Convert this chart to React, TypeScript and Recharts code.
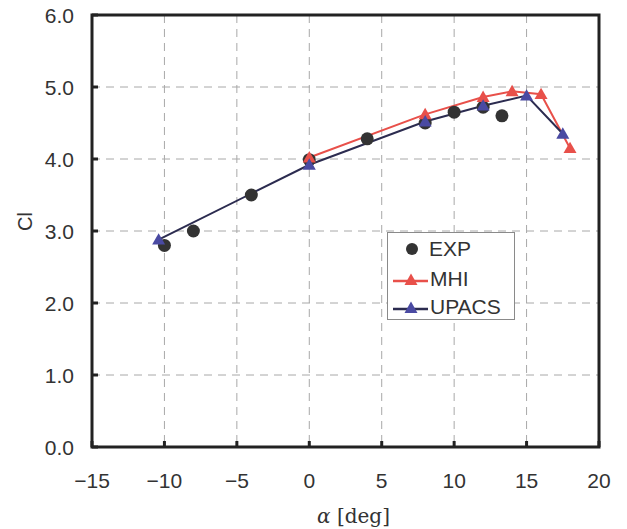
import React from 'react';
import {
  ComposedChart,
  Line,
  Scatter,
  XAxis,
  YAxis,
  CartesianGrid,
  ReferenceArea,
} from 'recharts';

// lift coefficient vs angle of attack
const expAlpha = [-10, -8, -4, 0, 4, 8, 10, 12, 13.3];
const expCl = [2.8, 3.0, 3.5, 3.99, 4.28, 4.5, 4.65, 4.72, 4.6];
const mhiAlpha = [0, 8, 12, 14, 16, 18];
const mhiCl = [4.02, 4.62, 4.86, 4.94, 4.9, 4.15];
const upacsAlpha = [-10.4, 0, 8, 12, 15, 17.5];
const upacsCl = [2.88, 3.92, 4.52, 4.74, 4.88, 4.35];

const xTicks = [-15, -10, -5, 0, 5, 10, 15, 20];
const yTicks = [0, 1, 2, 3, 4, 5, 6];

const toRows = (xs: number[], ys: number[]) => xs.map((a, i) => ({ a, cl: ys[i] }));
const expData = toRows(expAlpha, expCl);
const mhiData = toRows(mhiAlpha, mhiCl);
const upacsData = toRows(upacsAlpha, upacsCl);

const RED = '#e8504a';
const NAVY_LINE = '#2c2c50';
const NAVY_FILL = '#4a4aa2';
const FONT = '"Liberation Sans", Arial, sans-serif';

const tri = (cx: number, cy: number, s: number) =>
  `M${cx},${cy - s} L${cx + s},${cy + s * 0.75} L${cx - s},${cy + s * 0.75} Z`;

const makeTriangle = (fill: string) => (props: any) => {
  const { cx, cy, index } = props;
  if (cx == null || cy == null) return <g key={index} />;
  return <path key={index} d={tri(cx, cy, 6.5)} fill={fill} stroke="none" />;
};

const YTick = (props: any) => {
  const { x, y, payload } = props;
  return (
    <g>
      <text x={x} y={y} dy={7.5} textAnchor="end" fontSize={21} fill="#333" fontFamily={FONT}>
        {payload.value.toFixed(1)}
      </text>
      <line x1={x + 18} x2={x + 24} y1={y} y2={y} stroke="#222" strokeWidth={3} />
    </g>
  );
};

const XTick = (props: any) => {
  const { x, y, payload } = props;
  const label = String(payload.value).replace('-', '\u2212');
  return (
    <g>
      <text x={x} y={y} dy={18.5} textAnchor="middle" fontSize={21} fill="#333" fontFamily={FONT}>
        {label}
      </text>
      <line x1={x} x2={x} y1={y - 22} y2={y - 28} stroke="#222" strokeWidth={3} />
    </g>
  );
};

const XLabel = (props: any) => {
  const { viewBox } = props;
  if (!viewBox) return null;
  const cx = viewBox.x + viewBox.width / 2 + 8;
  const by = viewBox.y + viewBox.height + 36;
  return (
    <text x={cx} y={by} textAnchor="middle" fontSize={20} fill="#333" fontFamily='"DejaVu Serif", serif'>
      <tspan fontStyle="italic">{'\u03b1'}</tspan>
      <tspan>{' [deg]'}</tspan>
    </text>
  );
};

const LegendBox = () => (
  <div
    style={{
      position: 'absolute',
      left: 387,
      top: 232,
      width: 126,
      height: 86,
      border: '1px solid #8a8a8a',
      background: '#fff',
      fontFamily: FONT,
      fontSize: 21,
      color: '#333',
    }}
  >
    <div style={{ position: 'absolute', left: 4, top: 4, display: 'flex', alignItems: 'center', height: 24 }}>
      <svg width={34} height={20}>
        <circle cx={20} cy={10} r={6} fill="#333" />
      </svg>
      <span style={{ marginLeft: 3 }}>EXP</span>
    </div>
    <div style={{ position: 'absolute', left: 4, top: 34, display: 'flex', alignItems: 'center', height: 24 }}>
      <svg width={36} height={20}>
        <line x1={1} x2={36} y1={12} y2={12} stroke={RED} strokeWidth={2.5} />
        <path d={tri(19, 11, 6.5)} fill={RED} />
      </svg>
      <span style={{ marginLeft: 2 }}>MHI</span>
    </div>
    <div style={{ position: 'absolute', left: 4, top: 62, display: 'flex', alignItems: 'center', height: 24 }}>
      <svg width={36} height={20}>
        <line x1={1} x2={36} y1={12} y2={12} stroke={NAVY_LINE} strokeWidth={2.5} />
        <path d={tri(19, 11, 6.5)} fill={NAVY_FILL} />
      </svg>
      <span style={{ marginLeft: 2 }}>UPACS</span>
    </div>
  </div>
);

const App: React.FC = () => {
  return (
    <div style={{ position: 'absolute', left: 0, top: 0, width: 627, height: 529, background: '#fff' }}>
      <ComposedChart width={627} height={529} margin={{ top: 15, right: 28, bottom: 42, left: 32 }}>
        <CartesianGrid stroke="#a8a8a8" strokeDasharray="8 6" strokeWidth={1} />
        <XAxis
          dataKey="a"
          type="number"
          domain={[-15, 20]}
          ticks={xTicks}
          allowDataOverflow
          axisLine={false}
          tickLine={false}
          tickSize={0}
          tickMargin={22}
          height={40}
          tick={<XTick />}
          label={<XLabel />}
        />
        <YAxis
          dataKey="cl"
          type="number"
          domain={[0, 6]}
          ticks={yTicks}
          allowDataOverflow
          axisLine={false}
          tickLine={false}
          tickSize={0}
          tickMargin={18}
          width={60}
          tick={<YTick />}
          label={{
            value: 'Cl',
            angle: -90,
            position: 'insideLeft',
            offset: -7,
            fontSize: 20,
            fill: '#333',
            fontFamily: FONT,
          }}
        />
        <ReferenceArea
          x1={-15}
          x2={20}
          y1={0}
          y2={6}
          fill="none"
          stroke="#222"
          strokeWidth={3}
          ifOverflow="visible"
        />
        <Scatter
          name="EXP"
          data={expData}
          dataKey="cl"
          fill="#333"
          shape={(p: any) => <circle cx={p.cx} cy={p.cy} r={6.5} fill="#333" />}
          isAnimationActive={false}
        />
        <Line
          name="MHI"
          data={mhiData}
          dataKey="cl"
          stroke={RED}
          strokeWidth={2}
          dot={makeTriangle(RED)}
          activeDot={false}
          isAnimationActive={false}
        />
        <Line
          name="UPACS"
          data={upacsData}
          dataKey="cl"
          stroke={NAVY_LINE}
          strokeWidth={2}
          dot={makeTriangle(NAVY_FILL)}
          activeDot={false}
          isAnimationActive={false}
        />
      </ComposedChart>
      <LegendBox />
    </div>
  );
};

export default App;
